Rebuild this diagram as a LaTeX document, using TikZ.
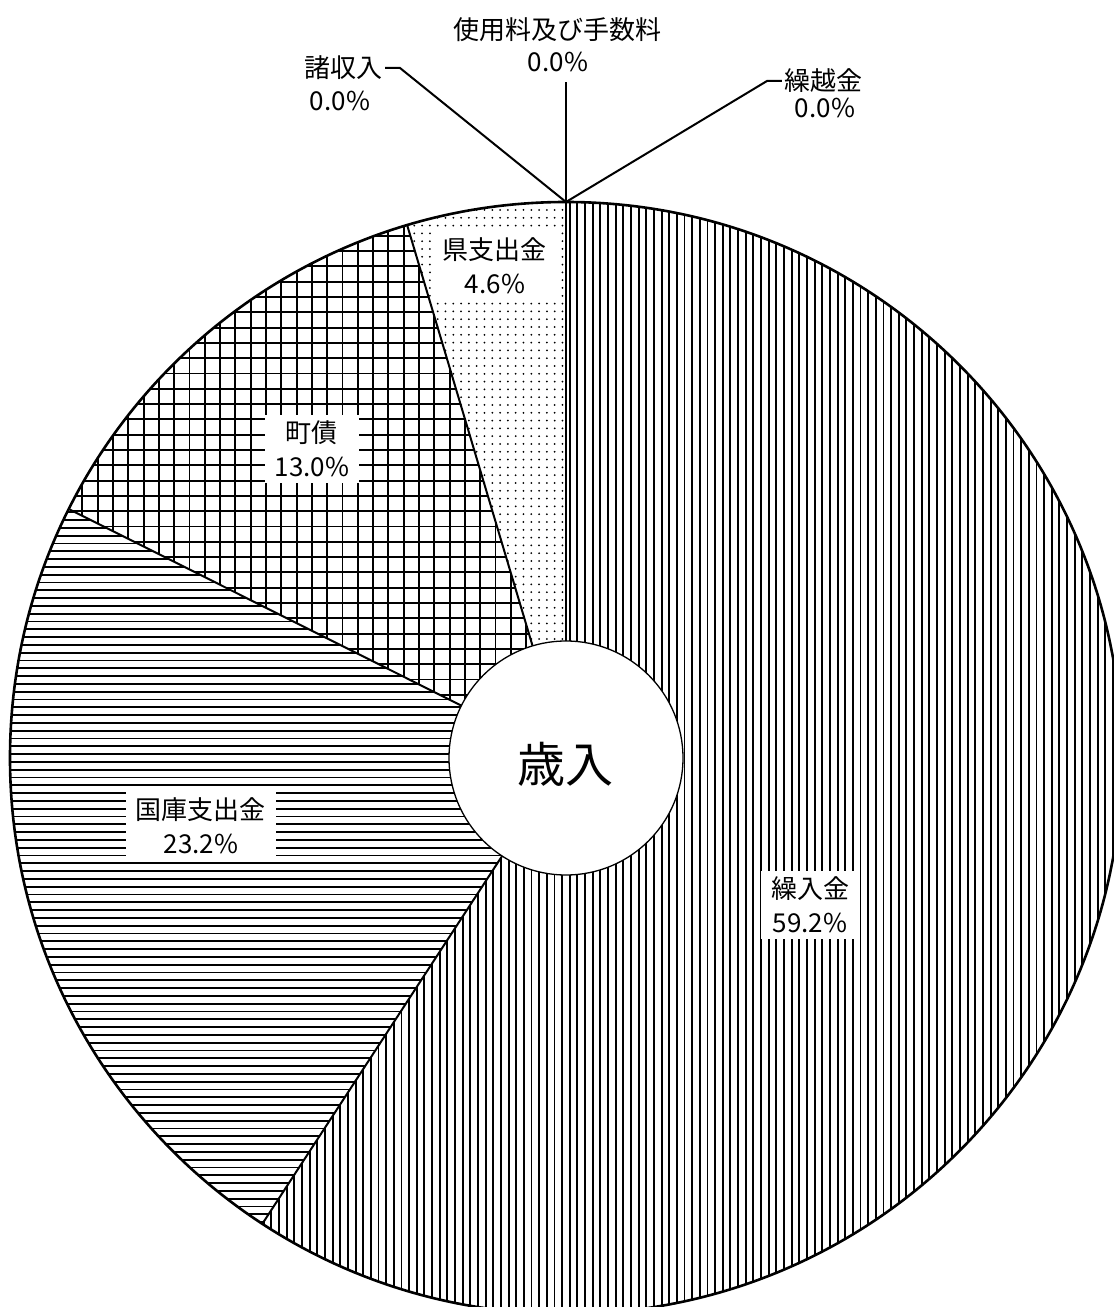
\documentclass[tikz,border=0pt]{standalone}
\usepackage{fontspec}
\setmainfont{Noto Sans CJK JP}

\begin{document}
\begin{tikzpicture}[x=1pt,y=1pt,
    hatch/.style={black,line width=1.9pt},
    edge/.style={black,line width=2pt},
    lbl/.style={fill=white,align=center,inner xsep=10pt,inner ysep=6pt,font=\fontsize{26}{34}\selectfont},
    zlbl/.style={inner xsep=2pt,inner ysep=1pt,font=\fontsize{26}{30}\selectfont}]
    \useasboundingbox (-566,-549) rectangle (548,758);
    \coordinate (top) at (90:556);
    % 繰入金 59.2%
    \begin{scope}
        \clip (0,0) -- (90:556) arc[start angle=90,end angle=-123.1,radius=556] -- cycle;
        \foreach \i in {-41,...,73}
            \draw [hatch] (\i*7.65+3.8,-560) -- ++(0,1120);
    \end{scope}
    % 国庫支出金 23.2%
    \begin{scope}
        \clip (0,0) -- (-123.1:556) arc[start angle=-123.1,end angle=-206.6,radius=556] -- cycle;
        \foreach \j in {-60,...,40}
            \draw [hatch] (-570,\j*7.8+3.9) -- ++(580,0);
    \end{scope}
    % 町債 13.0%
    \begin{scope}
        \clip (0,0) -- (153.4:556) arc[start angle=153.4,end angle=106.6,radius=556] -- cycle;
        \foreach \i in {-38,...,1}
            \draw [hatch] (\i*15.3+6,0) -- ++(0,570);
        \foreach \j in {0,...,37}
            \draw [hatch] (-570,\j*15.3+2) -- ++(580,0);
    \end{scope}
    % 県支出金 4.6%
    \begin{scope}
        \clip (0,0) -- (106.6:556) arc[start angle=106.6,end angle=90,radius=556] -- cycle;
        \foreach \i in {-22,...,0}
        \foreach \j in {0,...,72}
            \fill (\i*7.8-3.5,\j*7.8+2) circle (1.0);
    \end{scope}
    % slice edges
    \foreach \a in {90,-123.1,153.4,106.6}
        \draw [edge] (0,0) -- (\a:556);
    \draw [black,line width=2.6pt] (0,0) circle (556);
    \node [circle,draw,line width=1.3pt,fill=white,minimum size=234pt] (hub) at (0,0) {};
    \node [font=\fontsize{48}{48}\selectfont] (sainyu) at (0,-6) {歳入};
    % labels
    \node [lbl] (kurire) at (244,-147) {繰入金\\59.2\%};
    \node [lbl] (kokko) at (-365,-68) {国庫支出金\\23.2\%};
    \node [lbl] (chosai) at (-254,309) {町債\\13.0\%};
    \node [lbl] (kenshi) at (-71,492) {県支出金\\4.6\%};
    % zero slices
    \node [zlbl] (shiyoname) at (-8,728) {使用料及び手数料};
    \node [zlbl] (shiyopct) at (-8,696) {0.0\%};
    \node [zlbl] (shoname) at (-222,690) {諸収入};
    \node [zlbl] (shopct) at (-226,657) {0.0\%};
    \node [zlbl] (kurikoname) at (257,677) {繰越金};
    \node [zlbl] (kurikopct) at (259,650) {0.0\%};
    \coordinate (shiyoend) at (0,676);
    \coordinate (shoelbow) at (-166,690);
    \coordinate (kurikoelbow) at (201,677);
    \draw [edge] (top) -- (shiyoend);
    \draw [edge] (top) -- (shoelbow) -- (shoname.east);
    \draw [edge] (top) -- (kurikoelbow) -- (kurikoname.west);
\end{tikzpicture}
\end{document}
